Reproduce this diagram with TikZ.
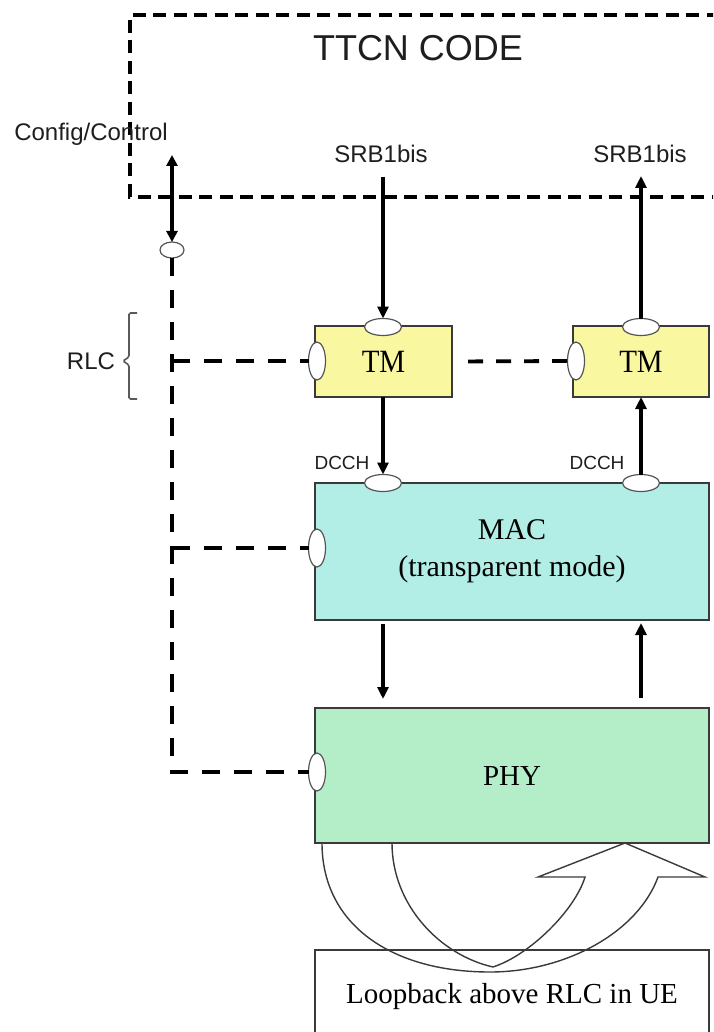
\documentclass[tikz,border=0pt]{standalone}
\usepackage{fontspec}
\setmainfont{Liberation Serif}
\newfontfamily\arialf{Liberation Sans}
\usetikzlibrary{arrows.meta,shapes.geometric,calc}

\definecolor{tmyellow}{HTML}{F9F7A0}
\definecolor{macblue}{HTML}{B2EDE6}
\definecolor{phygreen}{HTML}{B4EEC8}
\definecolor{edgegray}{HTML}{3A3A3A}
\definecolor{portgray}{HTML}{555555}
\definecolor{txt}{HTML}{1E1E1E}
\definecolor{bracegray}{HTML}{5A5A5A}

\begin{document}
\begin{tikzpicture}[x=1pt,y=-1pt,
  blockbox/.style={draw=edgegray, line width=1.6pt, inner sep=0pt, outer sep=0pt,
    font=\fontsize{29}{37}\selectfont, text=black},
  port/.style={ellipse, draw=portgray, fill=white, line width=1.2pt, inner sep=0pt, outer sep=0pt},
  hport/.style={port, minimum width=37pt, minimum height=17pt},
  vport/.style={port, minimum width=17pt, minimum height=38pt},
  sanslabel/.style={font=\arialf\fontsize{24}{28}\selectfont, text=txt, inner sep=0pt, anchor=base},
  smalllabel/.style={font=\arialf\fontsize{19}{22}\selectfont, text=txt, inner sep=0pt, anchor=base},
  flow/.style={line width=3.6pt, -{Triangle[length=12pt,width=11pt]}},
  bothflow/.style={line width=3.6pt, {Triangle[length=11pt,width=11pt]}-{Triangle[length=11pt,width=11pt]}},
  ctl/.style={line width=3.8pt, dash pattern=on 18pt off 14pt},
  frame/.style={line width=3.2pt, dash pattern=on 13pt off 7.5pt},
  uturn/.style={draw=edgegray, line width=1.4pt, line join=miter},
]
\useasboundingbox (0,0) rectangle (713,1032);
\clip (0,0) rectangle (713,1032);

% TTCN frame
\coordinate (fr1) at (740,15);
\coordinate (fr2) at (130,15);
\coordinate (fr3) at (130,197);
\coordinate (fr4) at (740,197);
\draw[frame] (fr1) -- (fr2) -- (fr3) -- (fr4);
\node[font=\arialf\fontsize{36}{40}\selectfont, text=txt, inner sep=0pt, anchor=base] (ttcn) at (418,61) {TTCN CODE};

% blocks
\node[blockbox, fill=tmyellow, minimum width=137pt, minimum height=71pt] (tm1) at (383.5,361.5) {\scalebox{1}[1.12]{TM}};
\node[blockbox, fill=tmyellow, minimum width=136pt, minimum height=71pt] (tm2) at (641,361.5) {\scalebox{1}[1.12]{TM}};
\node[blockbox, fill=macblue, minimum width=394pt, minimum height=137pt, align=center,
  font=\fontsize{30}{37}\selectfont] (mac) at (512,551.5) {MAC\\(transparent mode)};
\node[blockbox, fill=phygreen, minimum width=394pt, minimum height=135pt] (phy) at (512,775.5) {PHY};
\node[blockbox, minimum width=394pt, minimum height=94pt] (loop) at (512,997) {Loopback above RLC in UE};

% ports
\node[hport] (tm1t) at (383,327) {};
\node[hport] (tm2t) at (641,327) {};
\node[vport] (tm1l) at (317,361) {};
\node[vport] (tm2l) at (576,361) {};
\node[hport] (mact1) at (383,483) {};
\node[hport] (mact2) at (641,483) {};
\node[vport] (macl) at (317,548) {};
\node[vport] (phyl) at (317,772) {};
\node[port, minimum width=24pt, minimum height=16pt] (cfg) at (172,250) {};

% labels
\node[sanslabel] (cfgl) at (91,140.5) {Config/Control};
\node[sanslabel] (srbl) at (381,162.5) {SRB1bis};
\node[sanslabel] (srbr) at (640,162.5) {SRB1bis};
\node[sanslabel] (rlc) at (91,369.5) {RLC};
\node[smalllabel] (dcchl) at (342,469) {DCCH};
\node[smalllabel] (dcchr) at (597,469) {DCCH};

% brace
\draw[bracegray, line width=1.6pt, rounded corners=1.5pt]
  (137,313) -- (129,313) -- (129,357) -- (123,361) -- (129,365) -- (129,399) -- (137,399);

% control lines
\coordinate (cfgtop) at (172,155);
\coordinate (ctlcorner) at (172,772);
\coordinate (j1) at (172,361);
\coordinate (j2) at (172,548);
\draw[bothflow] (cfgtop) -- (cfg.north);
\draw[ctl] (cfg.south) -- (ctlcorner) -- (phyl.west);
\draw[ctl] (j1) -- (tm1l.west);
\draw[ctl] (j2) -- (macl.west);
\draw[ctl, dash pattern=on 15pt off 13pt, shorten <=16pt] (tm1.east) -- (tm2l.west);

% data flow
\coordinate (srbLstart) at (383,177);
\coordinate (srbRend) at (641,176);
\draw[flow, line width=4pt] (srbLstart) -- (tm1t.north);
\draw[flow, line width=4pt] (tm2t.north) -- (srbRend);
\draw[flow] (tm1.south -| tm1t) -- (mact1.north);
\draw[flow] (mact2.north) -- (tm2.south -| tm2t);
\draw[flow, shorten <=4pt, shorten >=9pt] (mac.south -| mact1) -- (phy.north -| mact1);
\draw[flow, line width=4pt, shorten <=10pt, shorten >=3pt] (phy.north -| mact2) -- (mac.south -| mact2);

% loopback U-turn arrow
\draw[uturn] (322,843) .. controls (322,925) and (392,972) .. (490,972)
  .. controls (566,972) and (638,932) .. (658,877)
  -- (705,877) -- (625,843) -- (538,877) -- (585,877)
  .. controls (575,910) and (530,955) .. (493,967)
  .. controls (440,955) and (392,905) .. (392,843);
\end{tikzpicture}
\end{document}
